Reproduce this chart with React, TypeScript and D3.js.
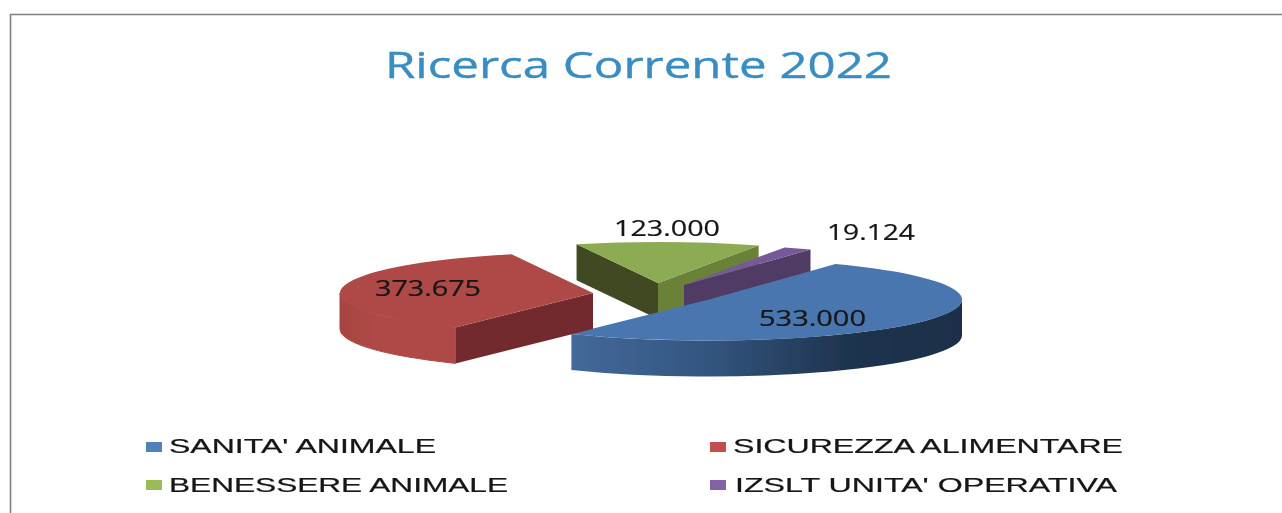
import React from "react";
import * as d3 from "d3";

const categories = ["SANITA' ANIMALE", "SICUREZZA ALIMENTARE", "BENESSERE ANIMALE", "IZSLT UNITA' OPERATIVA"];
const values = [533000, 373675, 123000, 19124];
const valueLabels = ["533.000", "373.675", "123.000", "19.124"];
const title = "Ricerca Corrente 2022";

const topColors = ["#4876ae", "#ae4a46", "#8dab52", "#765a98"];
const legendColors = ["#4f81bd", "#c0504d", "#9bbb59", "#8064a2"];
const startCutColors = [null, "#722c2d", "#3f4a20", null];
const endCutColors = [null, null, "#6b8239", "#4f3b63"];

const centers = [[709, 299.5], [593, 293], [658, 283], [684, 285]];
const labelBoxes = [
  { x: 759, w: 107, y: 326 },
  { x: 375, w: 106, y: 296 },
  { x: 614, w: 106, y: 236 },
  { x: 827, w: 88, y: 240 },
];
const legendBoxes = [
  { sx: 146, sy: 442, tx: 169, w: 267, y: 453 },
  { sx: 710, sy: 442, tx: 733, w: 390, y: 453 },
  { sx: 146, sy: 480, tx: 169, w: 339, y: 492 },
  { sx: 710, sy: 480, tx: 735, w: 382, y: 492 },
];

const RX = 253;
const RY = 41;
const DEPTH = 36;

const pie = d3.pie<number>().sort(null).startAngle(Math.PI / 6).endAngle(Math.PI / 6 + Math.PI * 2);
const arcs = pie(values);

const pt = (i: number, a: number): [number, number] => [
  centers[i][0] + RX * Math.sin(a),
  centers[i][1] - RY * Math.cos(a),
];

function topPath(i: number, a0: number, a1: number) {
  const [sx, sy] = pt(i, a0);
  const [ex, ey] = pt(i, a1);
  const large = a1 - a0 > Math.PI ? 1 : 0;
  return `M${centers[i][0]},${centers[i][1]}L${sx},${sy}A${RX},${RY} 0 ${large} 1 ${ex},${ey}Z`;
}

function sidePath(i: number, a0: number, a1: number) {
  const s = Math.max(a0, Math.PI / 2);
  const e = Math.min(a1, (Math.PI * 3) / 2);
  if (e <= s) return "";
  const [sx, sy] = pt(i, s);
  const [ex, ey] = pt(i, e);
  const large = e - s > Math.PI ? 1 : 0;
  return `M${sx},${sy}A${RX},${RY} 0 ${large} 1 ${ex},${ey}L${ex},${ey + DEPTH}A${RX},${RY} 0 ${large} 0 ${sx},${sy + DEPTH}Z`;
}

function cutPath(i: number, a: number) {
  const [cx, cy] = centers[i];
  const [x, y] = pt(i, a);
  return `M${cx},${cy}L${x},${y}L${x},${y + DEPTH}L${cx},${cy + DEPTH}Z`;
}

const drawOrder = [2, 3, 0, 1];
const sideFills = ["url(#blueSide)", "url(#redSide)", "none", "none"];
const sideStrokes = ["none", "url(#redSide)", "none", "none"];

export default function App() {
  return (
    <svg width={1282} height={513} style={{ position: "absolute", left: 0, top: 0, display: "block" }}>
      <defs>
        <linearGradient id="blueSide" x1="0" x2="1" y1="0" y2="0">
          <stop offset="0" stopColor="#44699b" />
          <stop offset="0.35" stopColor="#33557f" />
          <stop offset="0.7" stopColor="#1f344f" />
          <stop offset="1" stopColor="#1c2f49" />
        </linearGradient>
        <linearGradient id="redSide" x1="0" x2="1" y1="0" y2="0">
          <stop offset="0" stopColor="#a54441" />
          <stop offset="0.3" stopColor="#ae4a46" />
          <stop offset="1" stopColor="#ae4a46" />
        </linearGradient>
        <filter id="soft" filterUnits="userSpaceOnUse" x={0} y={0} width={1282} height={513}>
          <feGaussianBlur stdDeviation={0.5} />
        </filter>
      </defs>
      <rect width={1282} height={513} fill="#fff" />
      <path d="M10.5,513V14.5H1282" fill="none" stroke="#808080" strokeWidth={1.6} />
      <g filter="url(#soft)">
        <text x={385} y={78} textLength={507} lengthAdjust="spacingAndGlyphs" fontFamily="Open Sans" fontSize={37} fill="#3a8dc1" stroke="#3a8dc1" strokeWidth={0.4}>
          {title}
        </text>
        {drawOrder.map((i) => {
          const a = arcs[i];
          return (
            <g key={i}>
              {startCutColors[i] && <path d={cutPath(i, a.startAngle)} fill={startCutColors[i]!} />}
              {endCutColors[i] && <path d={cutPath(i, a.endAngle)} fill={endCutColors[i]!} />}
              {sideFills[i] !== "none" && (
                <path d={sidePath(i, a.startAngle, a.endAngle)} fill={sideFills[i]} stroke={sideStrokes[i]} strokeWidth={1} />
              )}
              <path d={topPath(i, a.startAngle, a.endAngle)} fill={topColors[i]} />
            </g>
          );
        })}
        {valueLabels.map((t, i) => (
          <text key={t} x={labelBoxes[i].x} y={labelBoxes[i].y} textLength={labelBoxes[i].w} lengthAdjust="spacingAndGlyphs" fontFamily="Open Sans" fontSize={21} fill="#141414" stroke="#141414" strokeWidth={0.2}>
            {t}
          </text>
        ))}
        {categories.map((c, i) => (
          <g key={c}>
            <rect x={legendBoxes[i].sx} y={legendBoxes[i].sy} width={16} height={10} fill={legendColors[i]} />
            <text x={legendBoxes[i].tx} y={legendBoxes[i].y} textLength={legendBoxes[i].w} lengthAdjust="spacingAndGlyphs" fontFamily="Liberation Sans" fontSize={19.5} fill="#141414" stroke="#141414" strokeWidth={0.2}>
              {c}
            </text>
          </g>
        ))}
      </g>
    </svg>
  );
}
